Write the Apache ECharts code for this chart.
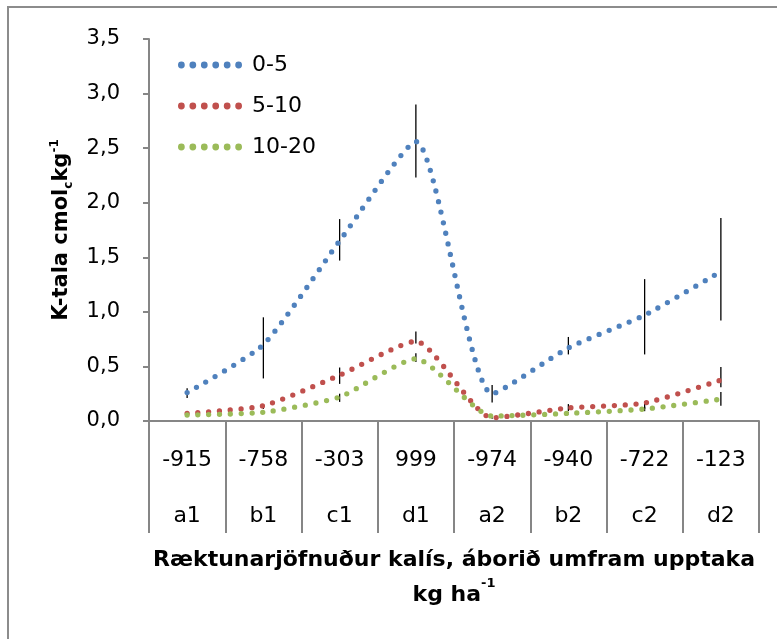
<!DOCTYPE html>
<html>
<head>
<meta charset="utf-8">
<script src="https://cdn.jsdelivr.net/npm/echarts@6/dist/echarts.min.js"></script>
<style>
  html, body { margin: 0; padding: 0; background: #fff; overflow: hidden; }
  #chart { width: 777px; height: 639px; }
  /* ramminn utan um myndina */
  #frame { position: absolute; left: 7px; top: 6px; width: 770px; height: 633px;
           border-left: 2px solid #8c8c8c; border-top: 2px solid #8c8c8c;
           box-sizing: border-box; pointer-events: none; }
</style>
</head>
<body>
<div id="chart"></div>
<div id="frame"></div>
<script>
// flokkar á x-ás
const balance = ['-915', '-758', '-303', '999', '-974', '-940', '-722', '-123'];
const treatments = ['a1', 'b1', 'c1', 'd1', 'a2', 'b2', 'c2', 'd2'];

// dýpi 0-5
const depth0_5 = [0.26, 0.70, 1.65, 2.56, 0.25, 0.67, 0.97, 1.37];
const depth0_5Low = [0.21, 0.39, 1.47, 2.23, 0.17, 0.61, 0.61, 0.92];
const depth0_5High = [0.30, 0.95, 1.85, 2.90, 0.33, 0.77, 1.30, 1.86];
// dýpi 5-10
const depth5_10 = [0.07, 0.14, 0.42, 0.73, 0.03, 0.12, 0.165, 0.375];
const depth5_10Low = [0.06, 0.11, 0.34, 0.71, 0.02, 0.09, 0.11, 0.31];
const depth5_10High = [0.08, 0.155, 0.49, 0.82, 0.05, 0.155, 0.18, 0.495];
// dýpi 10-20
const depth10_20 = [0.055, 0.08, 0.22, 0.57, 0.045, 0.07, 0.11, 0.20];
const depth10_20Low = [0.05, 0.075, 0.175, 0.54, 0.04, 0.06, 0.09, 0.14];
const depth10_20High = [0.06, 0.09, 0.25, 0.62, 0.05, 0.08, 0.13, 0.265];

const FONT = 'DejaVu Sans';
const AXIS_GREY = '#868686';

// sex punktar sem tákn í skýringu
let dotsIcon = 'path://';
for (let i = 0; i < 6; i++) {
  const cx = 3.4 + i * 11.5;
  dotsIcon += `M${cx - 3.4} 3.4a3.4 3.4 0 1 0 6.8 0a3.4 3.4 0 1 0 -6.8 0Z`;
}

// punktalína
const dotted = (color) => ({
  type: 'line',
  smooth: 0.2,
  showSymbol: false,
  symbol: 'none',
  z: 3,
  lineStyle: { color: color, width: 5.3, type: [0, 10.8], cap: 'round' },
  itemStyle: { color: color }
});

// skekkjustikur
const errorBars = (low, high) => ({
  type: 'custom',
  z: 1,
  silent: true,
  data: low.map((l, i) => [i, l, high[i]]),
  renderItem: (params, api) => {
    const p1 = api.coord([api.value(0), api.value(1)]);
    const p2 = api.coord([api.value(0), api.value(2)]);
    return {
      type: 'line',
      shape: { x1: p1[0], y1: p1[1], x2: p2[0], y2: p2[1] },
      style: { stroke: '#000', lineWidth: 1.3 }
    };
  }
});

const chart = echarts.init(document.getElementById('chart'));
chart.setOption({
  animation: false,
  textStyle: { fontFamily: FONT },
  grid: { left: 149, right: 18, top: 39, bottom: 218 },
  legend: {
    orient: 'vertical',
    left: 173,
    top: 46,
    icon: dotsIcon,
    itemWidth: 64,
    itemHeight: 7,
    itemGap: 13,
    textStyle: { fontFamily: FONT, fontSize: 22, lineHeight: 28, color: '#000', padding: [0, 0, 0, 5] },
    data: ['0-5', '5-10', '10-20']
  },
  xAxis: {
    type: 'category',
    data: balance.map((b, i) => b + '\n' + treatments[i]),
    boundaryGap: true,
    axisLine: { lineStyle: { color: AXIS_GREY, width: 2 } },
    axisTick: { show: true, interval: 0, length: 112, lineStyle: { color: AXIS_GREY, width: 2 } },
    axisLabel: {
      interval: 0,
      margin: 11,
      color: '#000',
      fontSize: 22,
      fontFamily: FONT,
      lineHeight: 56
    },
    name: '{t|Ræktunarjöfnuður kalís, áborið umfram upptaka}\n{t|kg ha}{s|-1}',
    nameLocation: 'middle',
    nameGap: 97,
    nameTextStyle: {
      rich: {
        t: { fontFamily: FONT, fontSize: 22, fontWeight: 'bold', color: '#000', lineHeight: 35 },
        s: { fontFamily: FONT, fontSize: 13, fontWeight: 'bold', color: '#000', lineHeight: 35, verticalAlign: 'top', padding: [0, 0, 16, 0] }
      }
    }
  },
  yAxis: {
    type: 'value',
    min: 0,
    max: 3.5,
    interval: 0.5,
    splitLine: { show: false },
    axisLine: { show: true, lineStyle: { color: AXIS_GREY, width: 2 } },
    axisTick: { show: true, length: 6, lineStyle: { color: AXIS_GREY, width: 2 } },
    axisLabel: {
      margin: 29,
      color: '#000',
      fontSize: 21,
      fontFamily: FONT,
      formatter: (v) => v.toFixed(1).replace('.', ',')
    },
    name: '{t|K-tala cmol}{s|c}{t|kg}{u|-1}',
    nameLocation: 'middle',
    nameGap: 74,
    nameRotate: 90,
    nameMoveOverlap: false,
    nameTextStyle: {
      rich: {
        t: { fontFamily: FONT, fontSize: 21, fontWeight: 'bold', color: '#000', lineHeight: 26 },
        s: { fontFamily: FONT, fontSize: 12, fontWeight: 'bold', color: '#000', lineHeight: 26, verticalAlign: 'bottom', padding: [8, 0, 0, 0] },
        u: { fontFamily: FONT, fontSize: 12, fontWeight: 'bold', color: '#000', lineHeight: 26, verticalAlign: 'top', padding: [0, 0, 10, 0] }
      }
    }
  },
  series: [
    errorBars(depth0_5Low, depth0_5High),
    errorBars(depth5_10Low, depth5_10High),
    errorBars(depth10_20Low, depth10_20High),
    Object.assign(dotted('#4F81BD'), { name: '0-5', data: depth0_5 }),
    Object.assign(dotted('#C0504D'), { name: '5-10', data: depth5_10 }),
    Object.assign(dotted('#9BBB59'), { name: '10-20', data: depth10_20 })
  ]
});
</script>
</body>
</html>
